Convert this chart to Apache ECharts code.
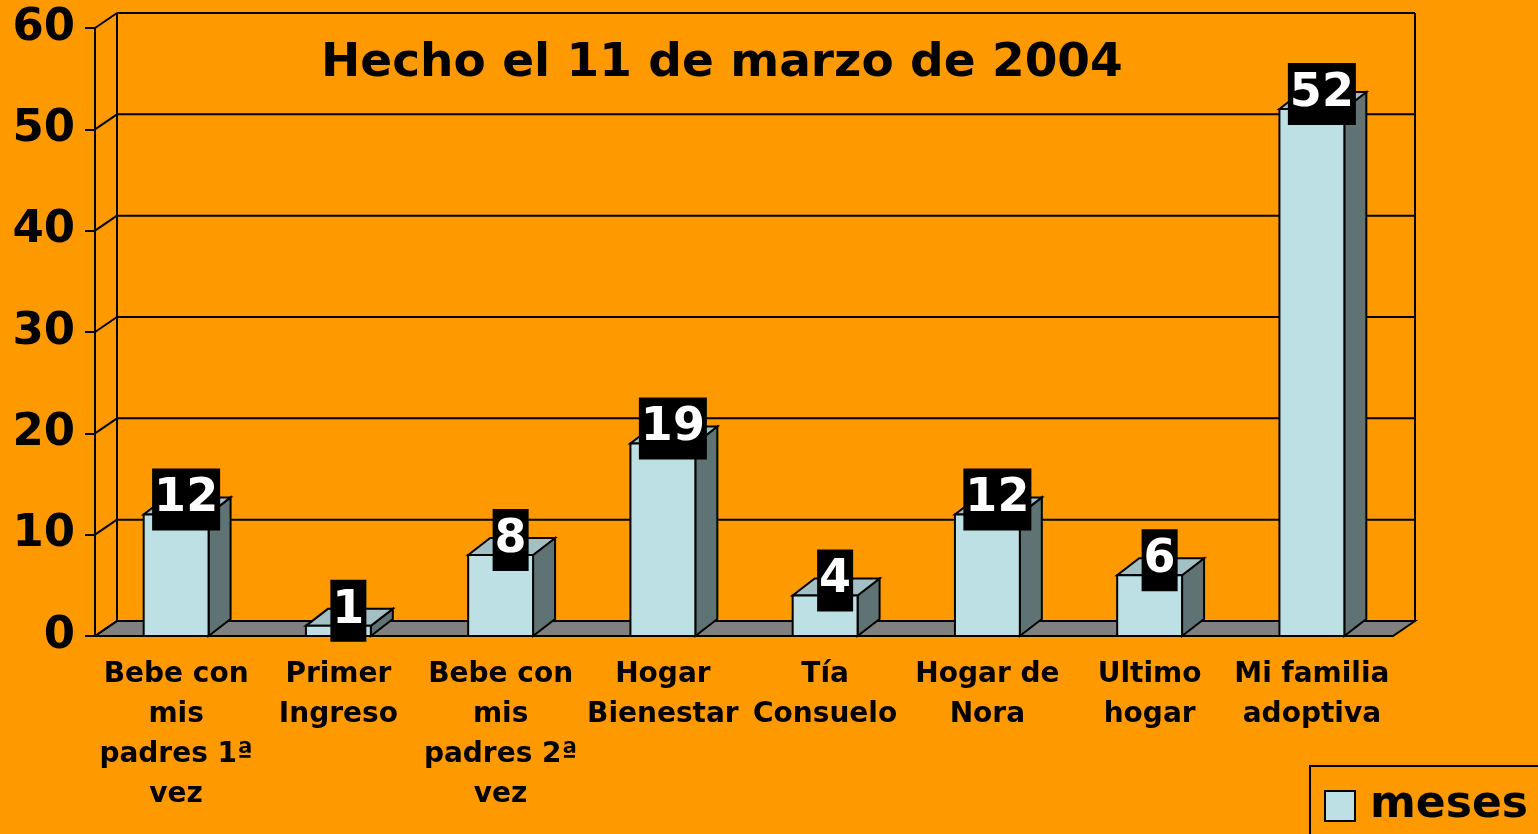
<!DOCTYPE html>
<html>
<head>
<meta charset="utf-8">
<script src="https://cdn.jsdelivr.net/npm/echarts@6/dist/echarts.min.js"></script>
<style>
  html, body { margin: 0; padding: 0; background: #FF9900; }
  #chart { width: 1538px; height: 834px; }
</style>
</head>
<body>
<div id="chart"></div>
<script>
  // categorias y meses en cada lugar
  var categories = ['Bebe con\nmis\npadres 1ª\nvez', 'Primer\nIngreso', 'Bebe con\nmis\npadres 2ª\nvez', 'Hogar\nBienestar',
    'Tía\nConsuelo', 'Hogar de\nNora', 'Ultimo\nhogar', 'Mi familia\nadoptiva'];
  var meses = [12, 1, 8, 19, 4, 12, 6, 52];
  var yTicks = [0, 10, 20, 30, 40, 50, 60];

  var FONT = 'DejaVu Sans';
  var DX = 22, DY = -15;       // profundidad del fondo
  var BX = 22, BY = -17;       // profundidad de la barra

  var chart = echarts.init(document.getElementById('chart'));

  // paredes, suelo y lineas del fondo
  function renderWalls(params, api) {
    var cs = params.coordSys;
    var x0 = cs.x, x1 = cs.x + cs.width;
    var yb = api.coord([0, 0])[1];
    var children = [];
    children.push({
      type: 'polygon',
      shape: { points: [[x0, yb], [x1, yb], [x1 + DX, yb + DY], [x0 + DX, yb + DY]] },
      style: { fill: '#808080', stroke: '#000', lineWidth: 2 }
    });
    yTicks.forEach(function (t) {
      var y = api.coord([0, t])[1];
      children.push({
        type: 'line',
        shape: { x1: x0, y1: y, x2: x0 + DX, y2: y + DY },
        style: { stroke: '#000', lineWidth: 2 }
      });
      if (t > 0) {
        children.push({
          type: 'line',
          shape: { x1: x0 + DX, y1: y + DY, x2: x1 + DX, y2: y + DY },
          style: { stroke: '#000', lineWidth: 2 }
        });
      }
    });
    var ytop = api.coord([0, yTicks[yTicks.length - 1]])[1];
    children.push({
      type: 'line',
      shape: { x1: x0 + DX, y1: ytop + DY, x2: x0 + DX, y2: yb + DY },
      style: { stroke: '#000', lineWidth: 2 }
    });
    children.push({
      type: 'line',
      shape: { x1: x1 + DX, y1: ytop + DY, x2: x1 + DX, y2: yb + DY },
      style: { stroke: '#000', lineWidth: 2 }
    });
    return { type: 'group', children: children };
  }

  // barras 3D con su etiqueta negra
  function renderBar(params, api) {
    var i = api.value(0), v = api.value(1);
    var p = api.coord([i, v]);
    var b = api.coord([i, 0]);
    var w = api.size([1, 0])[0] * 0.4;
    var xl = p[0] - w / 2, xr = p[0] + w / 2;
    var yt = p[1], yb = b[1];
    return {
      type: 'group',
      children: [
        {
          type: 'polygon',
          shape: { points: [[xr, yt], [xr + BX, yt + BY], [xr + BX, yb + BY], [xr, yb]] },
          style: { fill: '#5F7375', stroke: '#000', lineWidth: 2 }
        },
        {
          type: 'polygon',
          shape: { points: [[xl, yt], [xr, yt], [xr + BX, yt + BY], [xl + BX, yt + BY]] },
          style: { fill: '#A3C1C5', stroke: '#000', lineWidth: 2 }
        },
        {
          type: 'rect',
          shape: { x: xl, y: yt, width: w, height: yb - yt },
          style: { fill: api.visual('color'), stroke: '#000', lineWidth: 2 }
        },
        {
          type: 'text',
          x: p[0] + 10,
          y: yt - 15,
          style: {
            text: String(v),
            fill: '#fff',
            font: 'bold 46px "' + FONT + '"',
            align: 'center',
            verticalAlign: 'middle',
            backgroundColor: '#000',
            padding: [9, 2, 7, 2]
          }
        }
      ]
    };
  }

  chart.setOption({
    backgroundColor: '#FF9900',
    animation: false,
    title: {
      text: 'Hecho el 11 de marzo de 2004',
      left: 316,
      top: 35,
      textStyle: { fontFamily: FONT, fontSize: 47, fontWeight: 'bold', color: '#000' }
    },
    legend: {
      data: ['meses'],
      left: 1310,
      top: 766,
      orient: 'vertical',
      padding: [18, 40, 20, 14],
      borderColor: '#000',
      borderWidth: 2,
      icon: 'rect',
      itemWidth: 30,
      itemHeight: 30,
      itemStyle: { borderColor: '#000', borderWidth: 2 },
      textStyle: { fontFamily: FONT, fontSize: 44, fontWeight: 'bold', color: '#000', padding: [0, 0, 0, 10] }
    },
    grid: { left: 95, top: 28, width: 1298, height: 608 },
    xAxis: {
      type: 'category',
      data: categories,
      axisLine: { lineStyle: { color: '#000', width: 2 } },
      axisTick: { length: 10, lineStyle: { color: '#000', width: 2 } },
      axisLabel: {
        interval: 0,
        margin: 19,
        fontFamily: FONT,
        fontSize: 28,
        fontWeight: 'bold',
        color: '#000',
        lineHeight: 40
      },
      z: 1
    },
    yAxis: {
      type: 'value',
      min: 0,
      max: 60,
      interval: 10,
      axisLine: { show: true, lineStyle: { color: '#000', width: 2 } },
      axisTick: { show: true, length: 10, lineStyle: { color: '#000', width: 2 } },
      axisLabel: { margin: 20, fontFamily: FONT, fontSize: 45, fontWeight: 'bold', color: '#000' },
      splitLine: { show: false }
    },
    series: [
      {
        name: 'fondo',
        type: 'custom',
        renderItem: renderWalls,
        data: [[0, 0]],
        silent: true,
        z: 0
      },
      {
        name: 'meses',
        type: 'custom',
        renderItem: renderBar,
        itemStyle: { color: '#BDE0E5' },
        data: meses.map(function (m, i) { return [i, m]; }),
        z: 5
      }
    ]
  });
</script>
</body>
</html>
